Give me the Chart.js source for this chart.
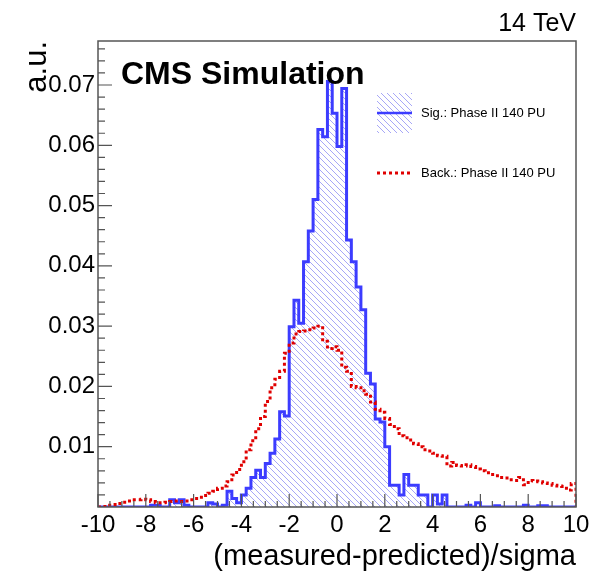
<!DOCTYPE html>
<html>
<head>
<meta charset="utf-8">
<script src="https://cdn.jsdelivr.net/npm/chart.js@4.4.1/dist/chart.umd.min.js"></script>
<style>
html, body { margin: 0; padding: 0; background: #fff; }
#wrap { width: 605px; height: 571px; }
</style>
</head>
<body>
<div id="wrap"><canvas id="c" width="605" height="571"></canvas></div>
<script>
// 100 bins over [-10, 10]
const xMin = -10, xMax = 10;
const yMax = 0.0773;

// signal: Phase II 140 PU
const sigValues = [
    0, 0, 0, 0, 0, 0, 0, 0, 0, 0,
    0, 0.0003, 0.0003, 0, 0, 0.0012, 0.0007, 0.0012, 0.0003, 0,
    0, 0, 0, 0.0007, 0.0005, 0, 0.0003, 0.0026, 0.0014, 0.0007,
    0.0020, 0.0031, 0.0049, 0.0061, 0.0049, 0.0072, 0.0089, 0.0113, 0.0158, 0.0151,
    0.0299, 0.0343, 0.0305, 0.0407, 0.0458, 0.0510, 0.0626, 0.0614, 0.0706, 0.0653,
    0.0598, 0.0694, 0.0443, 0.0407, 0.0365, 0.0327, 0.0222, 0.0204, 0.0146, 0.0141,
    0.0100, 0.0036, 0.0036, 0.0020, 0.0054, 0.0036, 0.0036, 0.0020, 0.0020, 0,
    0.0020, 0.0005, 0.0020, 0, 0, 0, 0, 0.0003, 0, 0.0007,
    0, 0, 0, 0.0002, 0, 0, 0, 0, 0, 0.0003,
    0, 0, 0.0002, 0.0002, 0, 0, 0, 0, 0, 0
];

// background: Phase II 140 PU
const bkgValues = [
    0.0000, 0.0001, 0.0003, 0.0004, 0.0006, 0.0008, 0.0010, 0.0012, 0.0012, 0.0013,
    0.0012, 0.0009, 0.0007, 0.0007, 0.0008, 0.0009, 0.0010, 0.0009, 0.0010, 0.0012,
    0.0014, 0.0016, 0.0019, 0.0023, 0.0026, 0.0031, 0.0035, 0.0042, 0.0053, 0.0062,
    0.0075, 0.0095, 0.0110, 0.0130, 0.0150, 0.0175, 0.0198, 0.0212, 0.0225, 0.0255,
    0.0272, 0.0287, 0.0291, 0.0292, 0.0294, 0.0297, 0.0300, 0.0275, 0.0263, 0.0266,
    0.0260, 0.0232, 0.0225, 0.0200, 0.0198, 0.0193, 0.0187, 0.0174, 0.0162, 0.0157,
    0.0147, 0.0137, 0.0130, 0.0118, 0.0115, 0.0111, 0.0105, 0.0100, 0.0095, 0.0093,
    0.0089, 0.0085, 0.0084, 0.0068, 0.0074, 0.0069, 0.0068, 0.0070, 0.0067, 0.0063,
    0.0060, 0.0057, 0.0054, 0.0052, 0.0049, 0.0048, 0.0045, 0.0044, 0.0049, 0.0037,
    0.0044, 0.0043, 0.0042, 0.0040, 0.0039, 0.0036, 0.0035, 0.0034, 0.0028, 0.0039
];

const xTickLabels = [-10, -8, -6, -4, -2, 0, 2, 4, 6, 8, 10];
const yTickLabels = [0.01, 0.02, 0.03, 0.04, 0.05, 0.06, 0.07];
const seriesLabels = ['Sig.: Phase II 140 PU', 'Back.: Phase II 140 PU'];

Chart.defaults.font.family = "'Liberation Sans', Arial, Helvetica, sans-serif";
Chart.defaults.color = '#000';

// histogram outline: points on the lower bin edges, stepped
function histPoints(values) {
    const w = (xMax - xMin) / values.length;
    const pts = [{ x: xMin, y: 0 }];
    values.forEach((v, i) => pts.push({ x: xMin + i * w, y: v }));
    pts.push({ x: xMax, y: values[values.length - 1] });
    pts.push({ x: xMax, y: 0 });
    return pts;
}

// ROOT-like "\\\" hatch
function hatch(color) {
    const s = 6;
    const c = document.createElement('canvas');
    c.width = s; c.height = s;
    const g = c.getContext('2d');
    g.strokeStyle = color;
    g.lineWidth = 1;
    g.beginPath();
    g.moveTo(-1, -1); g.lineTo(s + 1, s + 1);
    g.moveTo(-1, s - 1); g.lineTo(1, s + 1);
    g.moveTo(s - 1, -1); g.lineTo(s + 1, 1);
    g.stroke();
    return g.createPattern(c, 'repeat');
}

// frame, inward ticks, legend and labels
const rootFrame = {
    id: 'rootFrame',
    afterDatasetsDraw(chart) {
        const { ctx, chartArea: a, scales: { x, y } } = chart;
        ctx.save();
        ctx.strokeStyle = '#555';
        ctx.lineWidth = 1.5;
        ctx.strokeRect(a.left, a.top, a.right - a.left, a.bottom - a.top);

        ctx.beginPath();
        for (let k = 0; xMin + k * 0.5 <= xMax + 1e-9; k++) {
            const px = x.getPixelForValue(xMin + k * 0.5);
            const len = k % 4 === 0 ? 13 : 6;
            ctx.moveTo(px, a.bottom);
            ctx.lineTo(px, a.bottom - len);
        }
        for (let k = 1; k * 0.002 <= yMax; k++) {
            const py = y.getPixelForValue(k * 0.002);
            const len = k % 5 === 0 ? 14 : 7;
            ctx.moveTo(a.left, py);
            ctx.lineTo(a.left + len, py);
        }
        ctx.lineWidth = 1.2;
        ctx.stroke();

        // legend
        const sig = chart.data.datasets[0], bkg = chart.data.datasets[1];
        const lx = a.left + 279, lw = 35;
        ctx.fillStyle = sig.backgroundColor;
        ctx.fillRect(lx, a.top + 52, lw, 40);
        ctx.beginPath();
        ctx.strokeStyle = sig.borderColor;
        ctx.lineWidth = 2.5;
        ctx.moveTo(lx, a.top + 72);
        ctx.lineTo(lx + lw, a.top + 72);
        ctx.stroke();
        ctx.beginPath();
        ctx.strokeStyle = bkg.borderColor;
        ctx.lineWidth = 3;
        ctx.setLineDash(bkg.borderDash);
        ctx.moveTo(lx, a.top + 132);
        ctx.lineTo(lx + lw, a.top + 132);
        ctx.stroke();
        ctx.setLineDash([]);

        ctx.fillStyle = '#000';
        ctx.font = "13px 'Liberation Sans', Arial, sans-serif";
        ctx.textBaseline = 'middle';
        ctx.textAlign = 'left';
        ctx.fillText(sig.label, lx + 44, a.top + 72);
        ctx.fillText(bkg.label, lx + 44, a.top + 132);

        ctx.textBaseline = 'alphabetic';
        ctx.font = "bold 32px 'Liberation Sans', Arial, sans-serif";
        ctx.fillText('CMS Simulation', a.left + 23, a.top + 43);
        ctx.font = "25px 'Liberation Sans', Arial, sans-serif";
        ctx.textAlign = 'right';
        ctx.fillText('14 TeV', a.right, 31);
        ctx.restore();
    }
};

const sigPattern = hatch('rgba(80, 80, 240, 0.5)');

new Chart(document.getElementById('c'), {
    type: 'line',
    data: {
        datasets: [{
            label: seriesLabels[0],
            data: histPoints(sigValues),
            stepped: 'before',
            borderColor: '#3c3cff',
            borderWidth: 3,
            backgroundColor: sigPattern,
            fill: 'origin',
            pointRadius: 0,
            order: 2
        }, {
            label: seriesLabels[1],
            data: histPoints(bkgValues),
            stepped: 'before',
            borderColor: '#e00000',
            borderWidth: 3,
            borderDash: [3, 3],
            borderCapStyle: 'butt',
            fill: false,
            pointRadius: 0,
            order: 1
        }]
    },
    options: {
        responsive: false,
        animation: false,
        layout: { padding: { top: 41, right: 29, left: 0, bottom: 0 } },
        plugins: { legend: { display: false }, tooltip: { enabled: false } },
        scales: {
            x: {
                type: 'linear',
                min: xMin,
                max: xMax,
                grid: { display: false, drawTicks: false },
                border: { display: false },
                afterFit: (s) => { s.height = 64; },
                afterBuildTicks: (s) => { s.ticks = xTickLabels.map(v => ({ value: v })); },
                ticks: { font: { size: 24 }, padding: 4, maxRotation: 0, autoSkip: false },
                title: {
                    display: true,
                    text: '(measured-predicted)/sigma',
                    align: 'end',
                    font: { size: 29, lineHeight: 1.0 },
                    padding: { top: 0, bottom: 0 }
                }
            },
            y: {
                min: 0,
                max: yMax,
                grid: { display: false, drawTicks: false },
                border: { display: false },
                afterFit: (s) => { s.width = 98; },
                afterBuildTicks: (s) => { s.ticks = yTickLabels.map(v => ({ value: v })); },
                ticks: {
                    font: { size: 24 },
                    padding: 3,
                    callback: (v) => v.toFixed(2)
                },
                title: {
                    display: true,
                    text: 'a.u.',
                    align: 'end',
                    font: { size: 31 },
                    padding: { top: 19, bottom: 0 }
                }
            }
        }
    },
    plugins: [rootFrame]
});
</script>
</body>
</html>
